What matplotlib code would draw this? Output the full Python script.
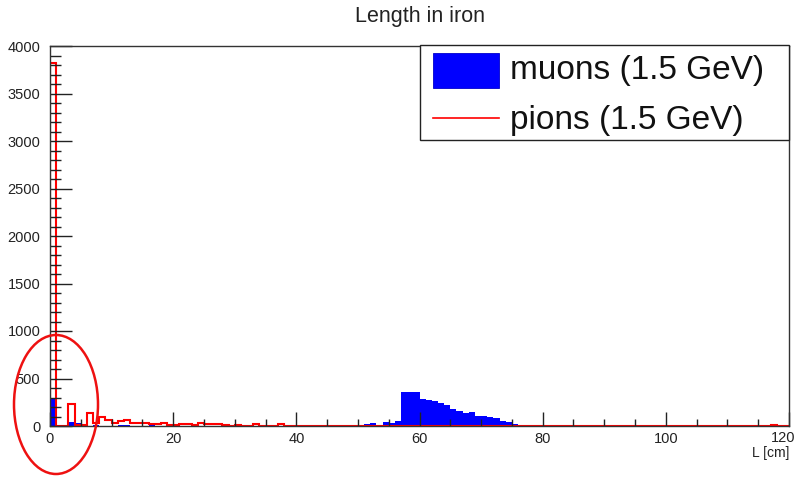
import numpy as np
import matplotlib
matplotlib.use("Agg")
import matplotlib.pyplot as plt
from matplotlib.patches import Ellipse, Rectangle
from matplotlib.lines import Line2D
from matplotlib.ticker import MultipleLocator, FuncFormatter

plt.rcParams['font.family'] = ['Liberation Sans', 'DejaVu Sans']

# histogram binning: 120 bins of 1 cm
edges = np.arange(0, 121, 1)

# muons (1.5 GeV), counts per bin
muons = [295, 0, 0, 40, 35, 8, 5, 6, 4, 5, 3, 6, 10, 4, 5, 3, 6, 4, 2, 3,
         4, 2, 3, 2, 4, 2, 3, 1, 2, 3, 2, 1, 2, 3, 1, 2, 1, 2, 3, 1,
         2, 1, 2, 1, 2, 1, 2, 2, 1, 3, 4, 20, 28, 6, 45, 35, 50, 361, 361, 361,
         288, 278, 266, 238, 220, 183, 163, 133, 149, 102, 110, 96, 81, 56, 37, 23, 10, 6, 3, 2,
         3, 2, 0, 3, 3, 2, 3, 3, 2, 3, 3, 2, 3, 3, 2, 3, 3, 2, 3, 3,
         3, 2, 3, 0, 3, 3, 2, 3, 3, 2, 0, 0, 3, 3, 2, 3, 0, 3, 0, 3]

# pions (1.5 GeV), counts per bin
pions = [3820, 2, 0, 230, 15, 8, 140, 30, 95, 60, 35, 55, 63, 35, 30, 35, 25, 20, 30, 8,
         10, 20, 18, 10, 30, 20, 20, 25, 8, 5, 6, 4, 5, 20, 4, 5, 3, 20, 4, 3,
         3, 2, 3, 2, 2, 3, 2, 2, 3, 2, 2, 3, 2, 2, 3, 2, 2, 3, 2, 2,
         2, 3, 2, 2, 3, 2, 2, 3, 2, 2, 2, 3, 2, 2, 3, 2, 2, 3, 2, 2,
         2, 3, 2, 2, 3, 2, 2, 3, 2, 2, 2, 3, 2, 2, 3, 2, 2, 3, 2, 2,
         2, 3, 2, 2, 3, 2, 2, 3, 2, 2, 2, 3, 2, 2, 3, 2, 2, 15, 2, 2]

title = "Length in iron"
labels = ["muons (1.5 GeV)", "pions (1.5 GeV)"]
xmax = 120

W, H = 799, 478
fig = plt.figure(figsize=(W / 100, H / 100), dpi=100)
ax = fig.add_axes([50 / W, (H - 426) / H, (789 - 50) / W, (426 - 46) / H])

ax.stairs(muons, edges, fill=True, color='#0000ff', lw=0)
ax.stairs(pions, edges, color='#ff0000', lw=1.5)

ax.set_xlim(0, xmax)
ax.set_ylim(0, 4000)
ax.xaxis.set_major_locator(MultipleLocator(20))
ax.xaxis.set_minor_locator(MultipleLocator(5))
# last label is placed by hand so it stays inside the canvas
ax.xaxis.set_major_formatter(FuncFormatter(lambda v, p: '' if v >= xmax else '%d' % v))
ax.yaxis.set_major_locator(MultipleLocator(500))
ax.yaxis.set_minor_locator(MultipleLocator(100))
ax.tick_params(axis='y', which='major', direction='in', length=16, width=1, colors='#222222',
               labelsize=10.5, pad=7)
ax.tick_params(axis='y', which='minor', direction='in', length=8, width=1, color='#222222')
ax.tick_params(axis='x', which='major', direction='in', length=10, width=1, colors='#222222',
               labelsize=10.5, pad=4)
ax.tick_params(axis='x', which='minor', direction='in', length=5, width=1, color='#222222')
for s in ax.spines.values():
    s.set_color('#333333')
    s.set_linewidth(1)

ax.annotate('%d' % xmax, xy=(xmax, 0), xycoords=('data', 'axes fraction'),
            xytext=(-6, -5.5), textcoords='offset pixels', ha='center', va='top',
            fontsize=10.5, color='#222222')

ax.set_title(title, fontsize=15.5, color='#222222', pad=17)
ax.set_xlabel("L [cm]", fontsize=10, color='#222222', loc='right', labelpad=0)

# legend box, drawn by hand in figure pixels (ROOT-like layout)
def px(x, y):
    return x / W, 1 - y / H

fig.add_artist(Rectangle(px(420, 140), 369 / W, 95 / H, transform=fig.transFigure,
                         facecolor='white', edgecolor='#222222', lw=1, zorder=5))
fig.add_artist(Rectangle(px(433, 88), 66 / W, 35 / H, transform=fig.transFigure,
                         facecolor='#0000ff', edgecolor='#0000cc', lw=0.6, zorder=6))
fig.add_artist(Line2D([433 / W, 499 / W], [1 - 118 / H] * 2, transform=fig.transFigure,
                      color='#ff0000', lw=1.2, zorder=6))
for lab, yy in zip(labels, [71, 121]):
    fig.text(510 / W, 1 - yy / H, lab, fontsize=24, color='#111111', ha='left', va='center',
             zorder=7)

# hand-drawn red ellipse around the first bins
fig.add_artist(Ellipse(px(56, 404.5), 84 / W, 139 / H, transform=fig.transFigure,
                       fill=False, edgecolor='#ee1111', lw=1.8))

fig.savefig("out.png", dpi=100)
